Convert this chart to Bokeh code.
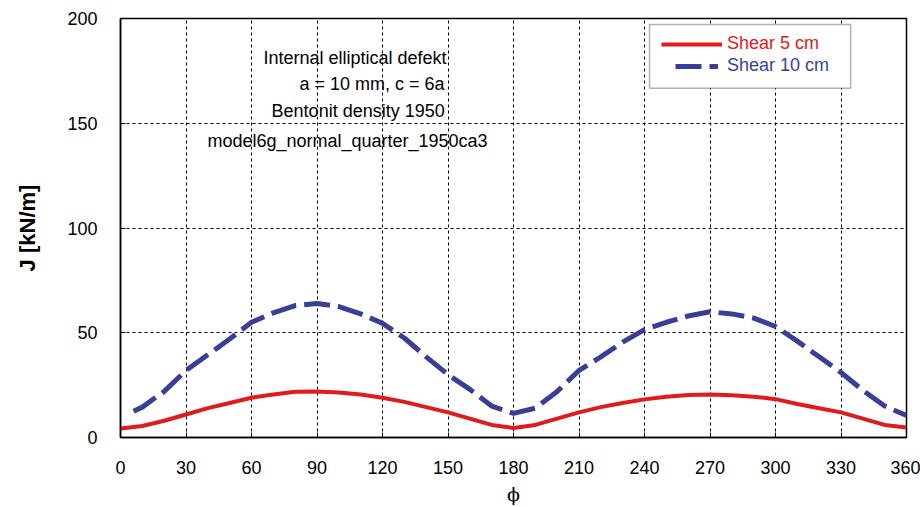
from bokeh.plotting import figure
from bokeh.models import Legend, LegendItem, BoxAnnotation, ColumnDataSource, FixedTicker, Range1d
from bokeh.core.properties import value
from bokeh.embed import file_html
from bokeh.resources import INLINE

# Data
phi_5 = [0, 10, 20, 30, 40, 50, 60, 70, 80, 90, 100, 110, 120, 130, 140, 150, 160, 170, 180,
         190, 200, 210, 220, 230, 240, 250, 260, 270, 280, 290, 300, 310, 320, 330, 340, 350, 360]
shear_5 = [4.3, 5.5, 8.0, 11.0, 14.0, 16.5, 19.0, 20.5, 21.8, 22.0, 21.5, 20.5, 19.0, 17.0, 14.5, 12.0, 9.0, 6.0, 4.5,
           6.0, 9.0, 12.0, 14.5, 16.5, 18.2, 19.5, 20.3, 20.5, 20.2, 19.5, 18.3, 16.0, 14.0, 12.0, 9.0, 6.0, 4.8]

phi_10 = [6, 10, 20, 30, 40, 50, 60, 70, 80, 90, 100, 110, 120, 130, 140, 150, 160, 170, 180,
          190, 200, 210, 220, 230, 240, 250, 260, 270, 280, 290, 300, 310, 320, 330, 340, 350, 360]
shear_10 = [12.5, 14.5, 22.0, 32.0, 39.5, 47.0, 55.0, 59.5, 63.0, 64.0, 62.5, 59.0, 54.5, 47.5, 38.5, 30.0, 23.0, 15.0, 11.5,
            14.0, 22.0, 32.0, 38.5, 45.5, 51.5, 55.0, 58.0, 60.0, 59.0, 57.0, 53.0, 46.0, 38.5, 31.0, 22.5, 15.0, 10.5]

x_ticks = [0, 30, 60, 90, 120, 150, 180, 210, 240, 270, 300, 330, 360]
y_ticks = [0, 50, 100, 150, 200]

notes = ["Internal elliptical defekt", "a = 10 mm, c = 6a", "Bentonit density 1950", "model6g_normal_quarter_1950ca3"]
notes_x = [65.5, 82.0, 69.2, 39.8]
notes_y = [181.0, 168.6, 155.7, 141.4]

series_labels = ["Shear 5 cm", "Shear 10 cm"]
RED = "#e01b1b"
BLUE = "#3a3f96"
FONT = "Liberation Sans"

p = figure(width=920, height=507, output_backend="svg", toolbar_location=None,
           x_range=Range1d(0, 360), y_range=Range1d(0, 200),
           min_border_left=120, min_border_right=14, min_border_top=18, min_border_bottom=69)
p.background_fill_color = "white"
p.border_fill_color = "white"
p.outline_line_color = "black"
p.outline_line_width = 1.5

# axes
for ax in (p.xaxis[0], p.yaxis[0]):
    ax.axis_line_color = "black"
    ax.axis_line_width = 1.5
    ax.major_tick_in = 5
    ax.major_tick_out = 0
    ax.minor_tick_line_color = None
    ax.major_label_text_font = FONT
    ax.major_label_text_font_size = "18px"
    ax.major_label_text_color = "black"
    ax.major_tick_line_color = "black"
    ax.axis_label_text_color = "black"

p.xaxis.ticker = FixedTicker(ticks=x_ticks)
p.yaxis.ticker = FixedTicker(ticks=y_ticks)
p.xaxis.major_label_standoff = 23
p.yaxis.major_label_standoff = 23
p.xaxis.axis_label = "\u03d5"
p.xaxis.axis_label_text_font = "DejaVu Serif"
p.xaxis.axis_label_text_font_style = "normal"
p.xaxis.axis_label_text_font_size = "19px"
p.xaxis.axis_label_standoff = 6
p.yaxis.axis_label = "J [kN/m]"
p.yaxis.axis_label_text_font = FONT
p.yaxis.axis_label_text_font_style = "bold"
p.yaxis.axis_label_text_font_size = "22px"
p.yaxis.axis_label_standoff = 24

# grid
for g in (p.xgrid[0], p.ygrid[0]):
    g.grid_line_color = "black"
    g.grid_line_width = 1
    g.grid_line_dash = "3 3"
    g.grid_line_alpha = 1.0
p.xgrid.ticker = FixedTicker(ticks=x_ticks)
p.ygrid.ticker = FixedTicker(ticks=y_ticks)

r5 = p.line(phi_5, shear_5, line_color=RED, line_width=4)
r10 = p.line(phi_10, shear_10, line_color=BLUE, line_width=5, line_dash="26 8")

# notes
src = ColumnDataSource(dict(x=notes_x, y=notes_y, t=notes))
p.text(x="x", y="y", text="t", source=src, text_font=value(FONT), text_font_size="18px",
       text_color="black", text_baseline="middle", text_align="left")

# legend frame
box = BoxAnnotation(left=242.3, right=334.4, bottom=166.7, top=197.1,
                    fill_color="white", fill_alpha=1.0, line_color="black", line_width=1.5)
p.add_layout(box)

leg1 = Legend(items=[LegendItem(label=series_labels[0], renderers=[r5])], location=(541, 383),
              padding=0, margin=0, spacing=0, glyph_width=61, glyph_height=20, label_height=20,
              label_standoff=5, label_text_color=RED, label_text_font=FONT, label_text_font_size="18px",
              border_line_color=None, background_fill_alpha=0)
leg2 = Legend(items=[LegendItem(label=series_labels[1], renderers=[r10])], location=(555, 361),
              padding=0, margin=0, spacing=0, glyph_width=43, glyph_height=20, label_height=20,
              label_standoff=9, label_text_color=BLUE, label_text_font=FONT, label_text_font_size="18px",
              border_line_color=None, background_fill_alpha=0)
p.add_layout(leg1)
p.add_layout(leg2)

open("out.html", "w").write(file_html(p, INLINE))
